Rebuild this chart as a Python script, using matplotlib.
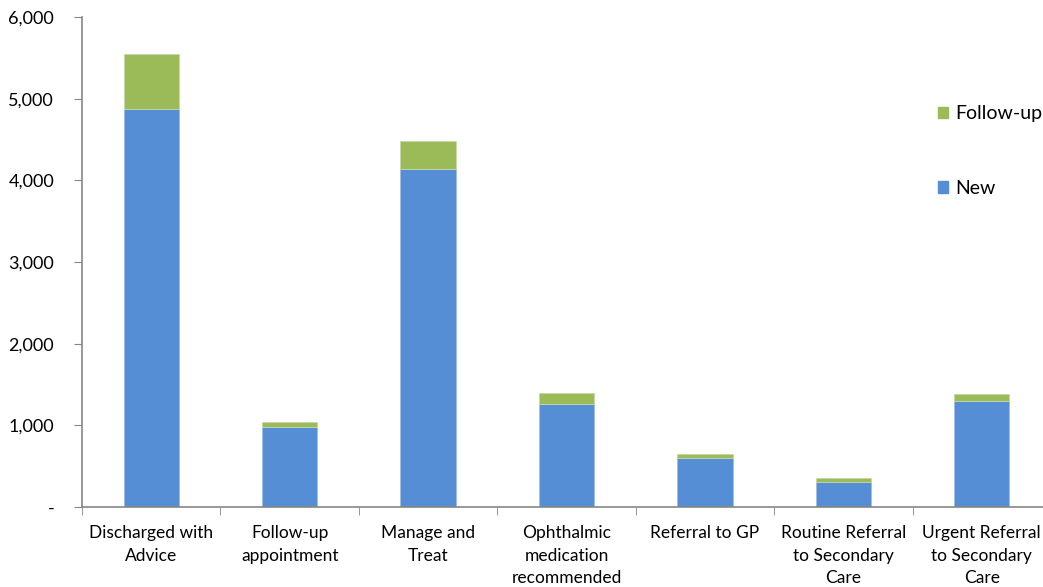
import numpy as np
import matplotlib.pyplot as plt
from matplotlib.patches import Patch
from matplotlib.ticker import FuncFormatter

plt.rcParams['font.family'] = ['Lato', 'DejaVu Sans']

categories = ['Discharged with\nAdvice', 'Follow-up\nappointment', 'Manage and\nTreat',
              'Ophthalmic\nmedication\nrecommended', 'Referral to GP',
              'Routine Referral\nto Secondary\nCare', 'Urgent Referral\nto Secondary\nCare']
new = [4870, 985, 4135, 1265, 605, 310, 1295]
follow_up = [675, 55, 345, 130, 50, 40, 90]

blue = '#558ED5'
green = '#9BBB59'
grey = '#868686'

W, H = 1043, 587
fig = plt.figure(figsize=(W / 100, H / 100), dpi=100)
ax = fig.add_axes([82 / W, (H - 507) / H, (1051 - 82) / W, (507 - 17) / H])

x = np.arange(len(categories))
ax.bar(x, new, width=0.4, color=blue, edgecolor='#9DBDE6', linewidth=0.6)
ax.bar(x, follow_up, width=0.4, bottom=new, color=green, edgecolor='#C5D9A8', linewidth=0.6)

ax.set_xlim(-0.5, len(categories) - 0.5)
ax.set_ylim(0, 6000)
ax.set_yticks(np.arange(0, 6001, 1000))
ax.yaxis.set_major_formatter(FuncFormatter(lambda v, p: '-' if v == 0 else f'{int(v):,}'))

ax.set_xticks(x)
ax.set_xticklabels(categories, linespacing=1.5)
ax.set_xticks(np.arange(-0.5, len(categories), 1), minor=True)
ax.tick_params(axis='x', which='major', length=0, pad=13, labelsize=12.5)
ax.tick_params(axis='x', which='minor', length=6, color=grey, direction='out')
ax.tick_params(axis='y', length=6, color=grey, direction='out', pad=14, labelsize=13)

for s in ['top', 'right']:
    ax.spines[s].set_visible(False)
for s in ['left', 'bottom']:
    ax.spines[s].set_color(grey)
    ax.spines[s].set_linewidth(1.2)

handles = [Patch(color=green, label='Follow-up'), Patch(color=blue, label='New')]
fig.legend(handles=handles, loc='upper left', bbox_to_anchor=(920 / W, 1 - 88 / H),
           frameon=False, fontsize=14, labelspacing=2.95, handlelength=0.55,
           handleheight=0.55, handletextpad=0.35)

fig.savefig('out.png', dpi=100)
